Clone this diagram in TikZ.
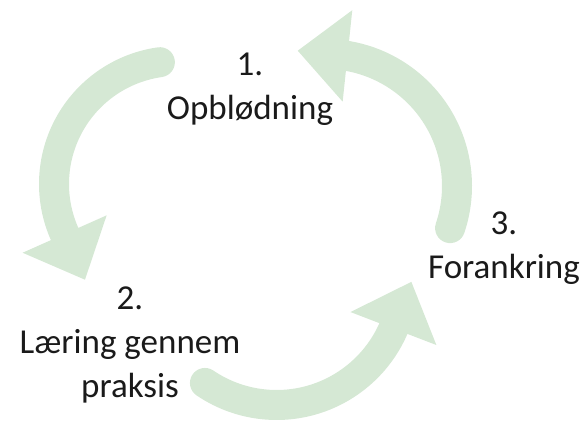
\documentclass[tikz,border=0pt]{standalone}
\usepackage{fontspec}
\setmainfont{Carlito}
\usetikzlibrary{calc}
\definecolor{cyclegreen}{RGB}{213,232,212}
\definecolor{stageink}{RGB}{26,26,26}

\begin{document}
\begin{tikzpicture}[x=1pt, y=1pt,
        shaft/.style={draw=cyclegreen, line width=30pt, line cap=round},
        tiphead/.style={fill=cyclegreen},
        stagetext/.style={align=center, text=stageink, inner sep=0pt, anchor=base,
            font=\fontsize{35}{44}\selectfont}]
    \useasboundingbox (0,0) rectangle (585,423);
    % arrow 1 -> 2
    \coordinate (c12) at (177, 239);
    \coordinate (a12) at ($(c12)+(98:123)$);
    \coordinate (b12) at ($(c12)+(204:123)$);
    \draw[shaft] (a12) arc[start angle=98, end angle=204, radius=123];
    \fill[tiphead] ($(b12)+(24:46)$) -- ($(b12)+(-66:50)$) -- ($(b12)+(204:46)$) -- cycle;
    % arrow 2 -> 3
    \coordinate (c23) at (276.6, 145.5);
    \coordinate (a23) at ($(c23)+(-124.2:127.5)$);
    \coordinate (b23) at ($(c23)+(-23.6:127.5)$);
    \draw[shaft] (a23) arc[start angle=-124.2, end angle=-23.6, radius=127.5];
    \fill[tiphead] ($(b23)+(-21:46)$) -- ($(b23)+(69:50)$) -- ($(b23)+(159:46)$) -- cycle;
    % arrow 3 -> 1
    \coordinate (c31) at (325, 237);
    \coordinate (a31) at ($(c31)+(-18.6:132)$);
    \coordinate (b31) at ($(c31)+(80.2:132)$);
    \draw[shaft] (a31) arc[start angle=-18.6, end angle=80.2, radius=132];
    \fill[tiphead] ($(b31)+(84:46)$) -- ($(b31)+(174:50)$) -- ($(b31)+(264:46)$) -- cycle;
    % stages (base = last line)
    \node[stagetext] (stage1) at (250, 303) {1.\\Opblødning};
    \node[stagetext] (stage2) at (130, 26) {2.\\Læring gennem\\praksis};
    \node[stagetext] (stage3) at (504, 145) {3.\\Forankring};
\end{tikzpicture}
\end{document}
